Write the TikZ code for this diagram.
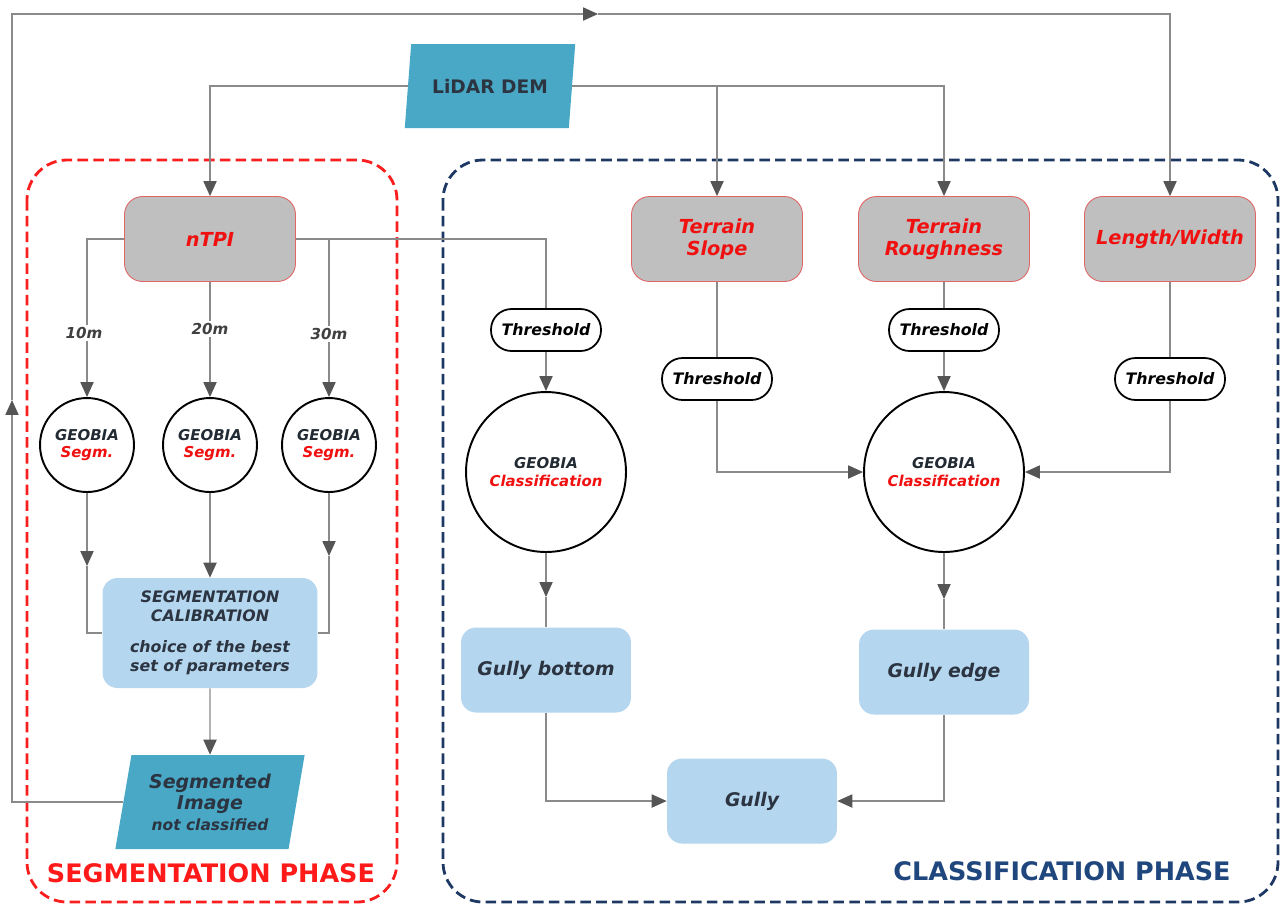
\documentclass[tikz,border=0pt]{standalone}
\usepackage{fontspec}
\setmainfont{DejaVu Sans}
\usetikzlibrary{arrows.meta,shapes.geometric}
\definecolor{linegrey}{RGB}{138,138,138}
\definecolor{tipgrey}{RGB}{85,85,85}
\definecolor{boxgrey}{RGB}{191,191,191}
\definecolor{boxedge}{RGB}{224,102,102}
\definecolor{txtred}{RGB}{240,16,16}
\definecolor{txtdark}{RGB}{43,52,64}
\definecolor{lightblue}{RGB}{180,214,238}
\definecolor{teal}{RGB}{72,168,198}
\definecolor{phasered}{RGB}{255,26,26}
\definecolor{phaseblue}{RGB}{31,70,125}
\definecolor{framered}{RGB}{250,30,30}
\definecolor{frameblue}{RGB}{30,56,100}
\begin{document}
\begin{tikzpicture}[x=0.02cm,y=-0.02cm,
    line/.style={draw=linegrey,line width=0.7pt},
    flow/.style={line,-{Triangle[length=8.5pt,width=7.5pt,color=tipgrey]}},
    phys/.style={rectangle,rounded corners=0.36cm,fill=boxgrey,draw=boxedge,line width=0.5pt,
      minimum width=3.42cm,minimum height=1.7cm,inner sep=1pt,align=center,text=txtred,
      font=\fontsize{11}{12.5}\selectfont\bfseries\itshape},
    result/.style={rectangle,rounded corners=0.3cm,fill=lightblue,minimum width=3.4cm,
      minimum height=1.7cm,inner sep=1pt,align=center,text=txtdark,
      font=\fontsize{10.7}{12.5}\selectfont\bfseries\itshape},
    datain/.style={trapezium,trapezium stretches=true,fill=teal,inner sep=1pt,align=center,text=txtdark},
    segm/.style={circle,draw=black,line width=1.1pt,minimum size=1.88cm,inner sep=0pt,align=center,
      text=txtdark!80!black,font=\fontsize{8.5}{9.6}\selectfont\bfseries\itshape},
    clas/.style={segm,minimum size=3.2cm,font=\fontsize{8.5}{10}\selectfont\bfseries\itshape},
    thr/.style={rectangle,rounded corners=0.41cm,draw=black,line width=1pt,fill=white,
      minimum width=2.2cm,minimum height=0.84cm,inner sep=1pt,
      font=\fontsize{9}{10}\selectfont\bfseries\itshape},
    dist/.style={fill=white,inner sep=1.5pt,text=black!75,font=\fontsize{8.6}{10}\selectfont\bfseries\itshape},
    frame/.style={rounded corners=0.8cm,line width=1.6pt,dash pattern=on 6pt off 3pt}]
  \useasboundingbox (0,0) rectangle (1280,904);
  % phase frames
  \draw[frame,framered] (27,160) rectangle (397,902);
  \draw[frame,frameblue] (443,160) rectangle (1278,902);
  \node[text=phasered,font=\fontsize{14.5}{16}\selectfont\bfseries] (segphase) at (211,873) {SEGMENTATION PHASE};
  \node[text=phaseblue,font=\fontsize{14.5}{16}\selectfont\bfseries] (clasphase) at (1062,871) {CLASSIFICATION PHASE};
  % input and layers
  \node[datain,trapezium left angle=74.7,trapezium right angle=105.3,minimum width=3.42cm,minimum height=1.68cm,
    font=\fontsize{10.6}{12}\selectfont\bfseries] (dem) at (490,86) {LiDAR DEM};
  \node[phys] (ntpi) at (210,239) {nTPI};
  \node[phys] (slope) at (717,239) {Terrain\\Slope};
  \node[phys] (rough) at (944,239) {Terrain\\Roughness};
  \node[phys] (lw) at (1170,239) {Length/Width};
  % segmentation branch
  \node[segm] (s10) at (87,445) {GEOBIA\\\textcolor{txtred}{Segm.}};
  \node[segm] (s20) at (210,445) {GEOBIA\\\textcolor{txtred}{Segm.}};
  \node[segm] (s30) at (329,445) {GEOBIA\\\textcolor{txtred}{Segm.}};
  \node[result,minimum width=4.3cm,minimum height=2.2cm,font=\fontsize{9}{10.8}\selectfont\bfseries\itshape]
    (cal) at (210,633) {SEGMENTATION\\CALIBRATION\\[7pt]choice of the best\\set of parameters};
  \node[datain,trapezium left angle=78,trapezium right angle=102,minimum width=3.8cm,minimum height=1.88cm,
    font=\fontsize{10.8}{12.5}\selectfont\bfseries\itshape] (img) at (210,802)
    {Segmented\\Image\\[-1pt]{\fontsize{8.8}{10}\selectfont not classified}};
  % classification branch
  \node[thr] (t1) at (546,330) {Threshold};
  \node[thr] (t2) at (717,379) {Threshold};
  \node[thr] (t3) at (944,330) {Threshold};
  \node[thr] (t4) at (1170,379) {Threshold};
  \node[clas] (c1) at (546,472) {GEOBIA\\\textcolor{txtred}{Classification}};
  \node[clas] (c2) at (944,472) {GEOBIA\\\textcolor{txtred}{Classification}};
  \node[result] (bottom) at (546,670) {Gully bottom};
  \node[result] (edge) at (944,672) {Gully edge};
  \node[result] (gully) at (752,801) {Gully};
  % connectors from the DEM
  \draw[flow] (dem.west) -| (ntpi.north);
  \draw[flow] (dem.east) -| (slope.north);
  \draw[flow] (dem.east) -| (rough.north);
  % nTPI scales
  \draw[flow] (ntpi.west) -| (s10.north);
  \draw[flow] (ntpi.south) -- (s20.north);
  \draw[flow] (ntpi.east) -| (s30.north);
  \draw[line] (ntpi.east) -| (t1.north);
  \node[dist] (d10) at (84,333) {10m};
  \node[dist] (d20) at (210,329) {20m};
  \node[dist] (d30) at (329,334) {30m};
  \coordinate (m10) at (87,566);
  \coordinate (m30) at (329,556);
  \draw[flow] (s10.south) -- (m10);
  \draw[line] (m10) |- (cal.west);
  \draw[flow] (s20.south) -- (cal.north);
  \draw[flow] (s30.south) -- (m30);
  \draw[line] (m30) |- (cal.east);
  \draw[flow] (cal.south) -- (img.north);
  % feedback loop
  \coordinate (loopup) at (12,400);
  \coordinate (loopright) at (598,14);
  \draw[flow] (img.west) -| (loopup);
  \draw[flow] (loopup) |- (loopright);
  \draw[flow] (loopright) -| (lw.north);
  % thresholds and classification
  \draw[flow] (t1.south) -- (c1.north);
  \draw[line] (slope.south) -- (t2.north);
  \draw[flow] (t2.south) |- (c2.west);
  \draw[line] (rough.south) -- (t3.north);
  \draw[flow] (t3.south) -- (c2.north);
  \draw[line] (lw.south) -- (t4.north);
  \draw[flow] (t4.south) |- (c2.east);
  \coordinate (mc1) at (546,597);
  \coordinate (mc2) at (944,599);
  \draw[flow] (c1.south) -- (mc1);
  \draw[line] (mc1) -- (bottom.north);
  \draw[flow] (c2.south) -- (mc2);
  \draw[line] (mc2) -- (edge.north);
  \draw[flow] (bottom.south) |- (gully.west);
  \draw[flow] (edge.south) |- (gully.east);
\end{tikzpicture}
\end{document}
